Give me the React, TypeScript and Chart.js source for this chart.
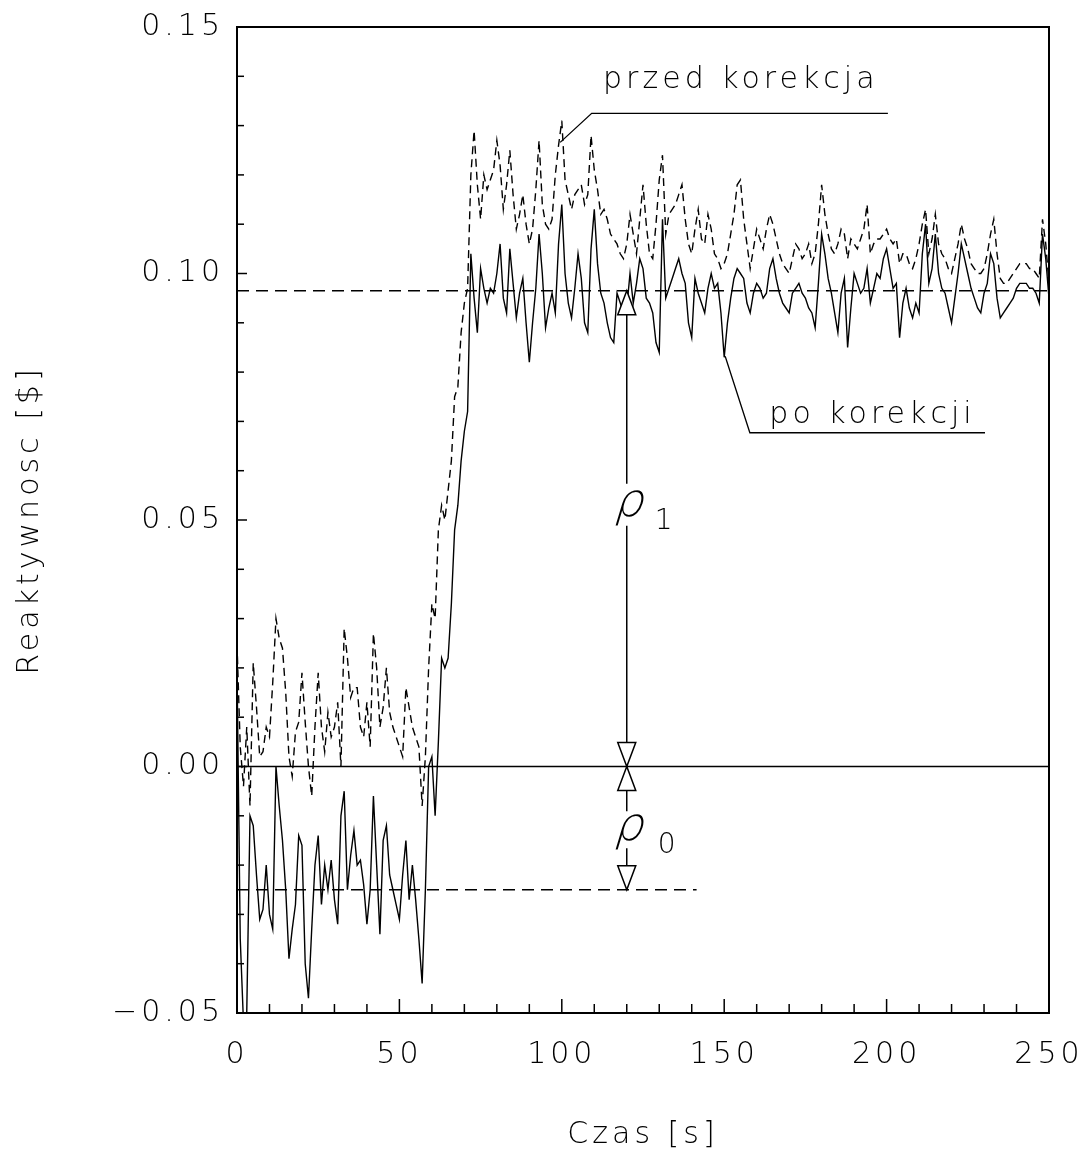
import React, { useEffect, useRef } from 'react';
import { Chart, registerables } from 'chart.js';

Chart.register(...registerables);

// ---------- data ----------
const TIME_START = 0; // s
const TIME_STEP = 1; // s between samples

// reactivity before correction (dashed)
const PRZED = [
  0.025, 0.004, -0.004, 0.008, -0.008, 0.021, 0.012, 0.002, 0.003, 0.008,
  0.006, 0.017, 0.030, 0.026, 0.024, 0.015, 0.002, -0.002, 0.007, 0.009,
  0.019, 0.009, 0.000, -0.006, 0.008, 0.019, 0.008, 0.003, 0.011, 0.006,
  0.008, 0.013, 0.000, 0.028, 0.022, 0.014, 0.016, 0.016, 0.008, 0.006,
  0.013, 0.004, 0.027, 0.020, 0.008, 0.012, 0.020, 0.011, 0.008, 0.006,
  0.004, 0.002, 0.016, 0.012, 0.008, 0.006, 0.004, -0.008, 0.002, 0.020,
  0.033, 0.030, 0.048, 0.053, 0.050, 0.056, 0.062, 0.075, 0.077, 0.088,
  0.094, 0.097, 0.120, 0.129, 0.118, 0.111, 0.120, 0.117, 0.119, 0.121,
  0.127, 0.122, 0.113, 0.118, 0.125, 0.116, 0.109, 0.112, 0.116, 0.110,
  0.106, 0.109, 0.117, 0.127, 0.114, 0.110, 0.109, 0.111, 0.120, 0.126,
  0.131, 0.119, 0.116, 0.113, 0.116, 0.117, 0.118, 0.114, 0.116, 0.128,
  0.121, 0.117, 0.112, 0.113, 0.111, 0.108, 0.107, 0.106, 0.104, 0.103,
  0.106, 0.112, 0.108, 0.104, 0.111, 0.118, 0.110, 0.104, 0.103, 0.110,
  0.119, 0.124, 0.108, 0.112, 0.113, 0.114, 0.116, 0.118, 0.111, 0.106,
  0.104, 0.109, 0.113, 0.107, 0.106, 0.112, 0.109, 0.104, 0.103, 0.101,
  0.102, 0.104, 0.108, 0.112, 0.118, 0.119, 0.111, 0.106, 0.101, 0.105,
  0.109, 0.107, 0.105, 0.109, 0.112, 0.110, 0.107, 0.104, 0.102, 0.101,
  0.100, 0.103, 0.106, 0.105, 0.103, 0.104, 0.106, 0.102, 0.104, 0.110,
  0.118, 0.112, 0.108, 0.105, 0.104, 0.106, 0.109, 0.108, 0.103, 0.107,
  0.106, 0.105, 0.107, 0.109, 0.114, 0.104, 0.106, 0.107, 0.107, 0.108,
  0.109, 0.107, 0.106, 0.107, 0.102, 0.104, 0.104, 0.102, 0.101, 0.103,
  0.106, 0.110, 0.113, 0.104, 0.107, 0.112, 0.106, 0.104, 0.103, 0.101,
  0.100, 0.103, 0.106, 0.110, 0.107, 0.105, 0.102, 0.101, 0.100, 0.100,
  0.101, 0.104, 0.108, 0.111, 0.104, 0.099, 0.098, 0.098, 0.099, 0.100,
  0.101, 0.102, 0.102, 0.102, 0.101, 0.101, 0.100, 0.099, 0.111, 0.106,
  0.098,
];

// reactivity after correction (solid)
const PO = [
  0.020, -0.035, -0.052, -0.050, -0.010, -0.012, -0.022, -0.031, -0.029, -0.020,
  -0.030, -0.033, 0.000, -0.008, -0.015, -0.025, -0.039, -0.033, -0.028, -0.014,
  -0.016, -0.040, -0.047, -0.033, -0.020, -0.014, -0.028, -0.020, -0.025, -0.019,
  -0.027, -0.032, -0.010, -0.005, -0.025, -0.018, -0.013, -0.020, -0.019, -0.024,
  -0.032, -0.025, -0.006, -0.020, -0.034, -0.015, -0.012, -0.022, -0.025, -0.028,
  -0.031, -0.022, -0.015, -0.027, -0.020, -0.027, -0.035, -0.044, -0.025, 0.000,
  0.002, -0.010, 0.005, 0.022, 0.020, 0.022, 0.033, 0.048, 0.053, 0.062,
  0.068, 0.072, 0.104, 0.095, 0.088, 0.101, 0.097, 0.094, 0.097, 0.096,
  0.100, 0.106, 0.095, 0.092, 0.105, 0.098, 0.091, 0.096, 0.099, 0.090,
  0.082, 0.090, 0.097, 0.108, 0.100, 0.089, 0.093, 0.096, 0.092, 0.106,
  0.114, 0.100, 0.094, 0.091, 0.097, 0.104, 0.099, 0.090, 0.088, 0.105,
  0.113, 0.102, 0.096, 0.094, 0.090, 0.087, 0.086, 0.096, 0.094, 0.092,
  0.093, 0.100, 0.094, 0.098, 0.103, 0.101, 0.095, 0.094, 0.092, 0.086,
  0.084, 0.111, 0.095, 0.097, 0.099, 0.101, 0.103, 0.100, 0.098, 0.090,
  0.087, 0.099, 0.096, 0.094, 0.092, 0.097, 0.100, 0.097, 0.098, 0.092,
  0.083, 0.090, 0.095, 0.099, 0.101, 0.100, 0.099, 0.094, 0.092, 0.096,
  0.098, 0.097, 0.095, 0.096, 0.101, 0.103, 0.099, 0.096, 0.094, 0.093,
  0.092, 0.096, 0.097, 0.098, 0.096, 0.095, 0.093, 0.092, 0.089, 0.098,
  0.108, 0.104, 0.099, 0.096, 0.092, 0.088, 0.096, 0.099, 0.085, 0.093,
  0.100, 0.098, 0.096, 0.097, 0.101, 0.094, 0.097, 0.100, 0.099, 0.103,
  0.105, 0.101, 0.097, 0.098, 0.087, 0.094, 0.097, 0.093, 0.091, 0.094,
  0.092, 0.104, 0.110, 0.098, 0.101, 0.108, 0.100, 0.097, 0.096, 0.093,
  0.090, 0.095, 0.100, 0.106, 0.103, 0.100, 0.097, 0.095, 0.093, 0.092,
  0.096, 0.098, 0.104, 0.102, 0.095, 0.091, 0.092, 0.093, 0.094, 0.095,
  0.097, 0.098, 0.098, 0.098, 0.097, 0.097, 0.096, 0.094, 0.108, 0.103,
  0.095,
];

const X_TICK_VALUES = [0, 50, 100, 150, 200, 250];
const X_TICK_LABELS = ['0', '50', '100', '150', '200', '250'];
const Y_TICK_VALUES = [-0.05, 0.0, 0.05, 0.1, 0.15];
const Y_TICK_LABELS = ['\u22120.05', '0.00', '0.05', '0.10', '0.15'];

const X_TITLE = 'Czas [s]';
const Y_TITLE = 'Reaktywnosc [$]';

// reference levels
const RHO1_LEVEL = 0.0965; // dashed level of the corrected signal
const RHO0_LEVEL = -0.025; // dashed level before the step
const ZERO_LEVEL = 0.0;
const RHO0_LINE_END = 141.5; // s
const RHO_TIME = 120; // s, position of the ρ arrows
const RHO1_LABEL_Y = 0.0533;
const RHO0_LABEL_Y = -0.0125;

// labels with leader lines [time, value]
const PRZED_TEXT = 'przed korekcja';
const PRZED_TEXT_POS = [112.7, 0.1377];
const PRZED_LEADER = [[99.5, 0.1266], [109.2, 0.1325], [200.4, 0.1325]];
const PO_TEXT = 'po korekcji';
const PO_TEXT_POS = [163.9, 0.0696];
const PO_LEADER = [[150.3, 0.0832], [157.9, 0.0677], [230.3, 0.0677]];

// ---------- styling ----------
const FONT_FAMILY = "'DejaVu Sans', 'Noto Sans', sans-serif";
const FONT_WEIGHT = 200;
const LETTER_SPACING = '4px';

const toPoints = (vals: number[]) =>
  vals.map((v, i) => ({ x: TIME_START + i * TIME_STEP, y: v }));

const near = (a: number, b: number) => Math.abs(a - b) < 1e-6;

const decorPlugin = {
  id: 'decor',
  beforeDraw(chart: any) {
    chart.ctx.letterSpacing = LETTER_SPACING;
  },
  afterDatasetsDraw(chart: any) {
    const ctx: CanvasRenderingContext2D = chart.ctx;
    const xs = chart.scales.x;
    const ys = chart.scales.y;
    const { left, right, top, bottom } = chart.chartArea;
    const X = (v: number) => xs.getPixelForValue(v);
    const Y = (v: number) => ys.getPixelForValue(v);

    ctx.save();
    (ctx as any).letterSpacing = LETTER_SPACING;
    ctx.strokeStyle = '#000';
    ctx.fillStyle = '#000';
    ctx.lineCap = 'butt';

    const line = (x1: number, y1: number, x2: number, y2: number) => {
      ctx.beginPath();
      ctx.moveTo(x1, y1);
      ctx.lineTo(x2, y2);
      ctx.stroke();
    };

    // zero line (solid)
    ctx.lineWidth = 1.5;
    ctx.setLineDash([]);
    line(left, Y(ZERO_LEVEL), right, Y(ZERO_LEVEL));

    // dashed reference levels
    ctx.setLineDash([12, 7]);
    line(left, Y(RHO1_LEVEL), right, Y(RHO1_LEVEL));
    line(left, Y(RHO0_LEVEL), X(RHO0_LINE_END), Y(RHO0_LEVEL));
    ctx.setLineDash([]);

    // arrows
    const px = X(RHO_TIME);
    const tw = 9;
    const th = 24;
    const tri = (apexY: number, dir: number) => {
      ctx.beginPath();
      ctx.moveTo(px, apexY);
      ctx.lineTo(px - tw, apexY + dir * th);
      ctx.lineTo(px + tw, apexY + dir * th);
      ctx.closePath();
      ctx.fillStyle = '#fff';
      ctx.fill();
      ctx.stroke();
      ctx.fillStyle = '#000';
    };
    ctx.lineWidth = 1.5;
    const y1 = Y(RHO1_LEVEL);
    const y0 = Y(ZERO_LEVEL);
    const yr = Y(RHO0_LEVEL);
    const c1 = Y(RHO1_LABEL_Y);
    const c0 = Y(RHO0_LABEL_Y);
    line(px, y1 + th, px, c1 - 20);
    line(px, c1 + 22, px, y0 - th);
    tri(y1, 1);
    tri(y0, -1);
    line(px, y0 + th, px, c0 - 17);
    line(px, c0 + 20, px, yr - th);
    tri(y0, 1);
    tri(yr, -1);

    // rho symbols (thin glyph, slanted)
    (ctx as any).letterSpacing = '0px';
    ctx.font = `${FONT_WEIGHT} 46px ${FONT_FAMILY}`;
    ctx.textAlign = 'center';
    ctx.textBaseline = 'alphabetic';
    const rho = (cy: number) => {
      ctx.save();
      ctx.translate(px + 1, cy + 12);
      ctx.transform(1, 0, -0.3, 1, 0, 0);
      ctx.fillText('\u03C1', 0, 0);
      ctx.restore();
    };
    rho(c1);
    rho(c0);
    ctx.font = `${FONT_WEIGHT} 28px ${FONT_FAMILY}`;
    ctx.textAlign = 'left';
    ctx.textBaseline = 'middle';
    ctx.fillText('1', px + 28, c1 + 18);
    ctx.fillText('0', px + 31, c0 + 18);

    // series labels with leaders
    (ctx as any).letterSpacing = LETTER_SPACING;
    ctx.font = `${FONT_WEIGHT} 30px ${FONT_FAMILY}`;
    ctx.textAlign = 'left';
    ctx.textBaseline = 'alphabetic';
    ctx.fillText(PRZED_TEXT, X(PRZED_TEXT_POS[0]), Y(PRZED_TEXT_POS[1]));
    ctx.fillText(PO_TEXT, X(PO_TEXT_POS[0]), Y(PO_TEXT_POS[1]));
    ctx.lineWidth = 1.3;
    const poly = (pts: number[][]) => {
      ctx.beginPath();
      pts.forEach(([t, v], i) => (i ? ctx.lineTo(X(t), Y(v)) : ctx.moveTo(X(t), Y(v))));
      ctx.stroke();
    };
    poly(PRZED_LEADER);
    poly(PO_LEADER);

    // inward tick marks
    ctx.lineWidth = 1.5;
    xs.ticks.forEach((t: any) => {
      const p = X(t.value);
      const major = X_TICK_VALUES.some((v) => near(v, t.value));
      line(p, bottom, p, bottom - (major ? 14 : 9));
    });
    ys.ticks.forEach((t: any) => {
      const p = Y(t.value);
      const major = Y_TICK_VALUES.some((v) => near(v, t.value));
      line(left, p, left + (major ? 10 : 7), p);
    });

    // frame
    ctx.lineWidth = 2;
    ctx.strokeRect(left, top, right - left, bottom - top);
    ctx.restore();
  },
};

export default function App() {
  const ref = useRef<HTMLCanvasElement>(null);

  useEffect(() => {
    const font = { family: FONT_FAMILY, size: 30, weight: FONT_WEIGHT as any };
    const chart = new Chart(ref.current as HTMLCanvasElement, {
      type: 'line',
      data: {
        datasets: [
          {
            label: PRZED_TEXT,
            data: toPoints(PRZED),
            borderColor: '#000',
            borderWidth: 1.4,
            borderDash: [8, 5],
            pointRadius: 0,
            tension: 0,
            fill: false,
          },
          {
            label: PO_TEXT,
            data: toPoints(PO),
            borderColor: '#000',
            borderWidth: 1.4,
            pointRadius: 0,
            tension: 0,
            fill: false,
          },
        ],
      },
      options: {
        animation: false,
        responsive: false,
        devicePixelRatio: 1,
        layout: { padding: { top: 27, right: 41, left: 0, bottom: 0 } },
        plugins: {
          legend: { display: false },
          tooltip: { enabled: false },
        },
        scales: {
          x: {
            type: 'linear',
            min: 0,
            max: 250,
            grid: { display: false, drawTicks: false },
            border: { display: false },
            ticks: {
              stepSize: 10,
              autoSkip: false,
              maxRotation: 0,
              padding: 24,
              color: '#000',
              font,
              callback: (v: any) => {
                const i = X_TICK_VALUES.findIndex((x) => near(x, Number(v)));
                return i >= 0 ? X_TICK_LABELS[i] : '';
              },
            },
            title: {
              display: true,
              text: X_TITLE,
              color: '#000',
              font: { ...font, lineHeight: 1 },
              padding: { top: 0, bottom: 1 },
            },
            afterFit: (s: any) => {
              s.height = 138;
              s.paddingLeft = 0;
              s.paddingRight = 0;
            },
          },
          y: {
            type: 'linear',
            min: -0.05,
            max: 0.15,
            grid: { display: false, drawTicks: false },
            border: { display: false },
            ticks: {
              stepSize: 0.01,
              autoSkip: false,
              padding: 13,
              color: '#000',
              font,
              callback: (v: any) => {
                const i = Y_TICK_VALUES.findIndex((y) => near(y, Number(v)));
                return i >= 0 ? Y_TICK_LABELS[i] : '';
              },
            },
            title: {
              display: true,
              text: Y_TITLE,
              color: '#000',
              font: { ...font, lineHeight: 1 },
              padding: { top: 15, bottom: 0 },
            },
            afterFit: (s: any) => {
              s.width = 237;
              s.paddingTop = 0;
              s.paddingBottom = 0;
            },
          },
        },
      },
      plugins: [decorPlugin],
    });
    return () => chart.destroy();
  }, []);

  return (
    <div style={{ position: 'absolute', left: 0, top: 0, width: 1090, height: 1151, background: '#fff' }}>
      <canvas ref={ref} width={1090} height={1151} style={{ display: 'block', width: 1090, height: 1151 }} />
    </div>
  );
}
